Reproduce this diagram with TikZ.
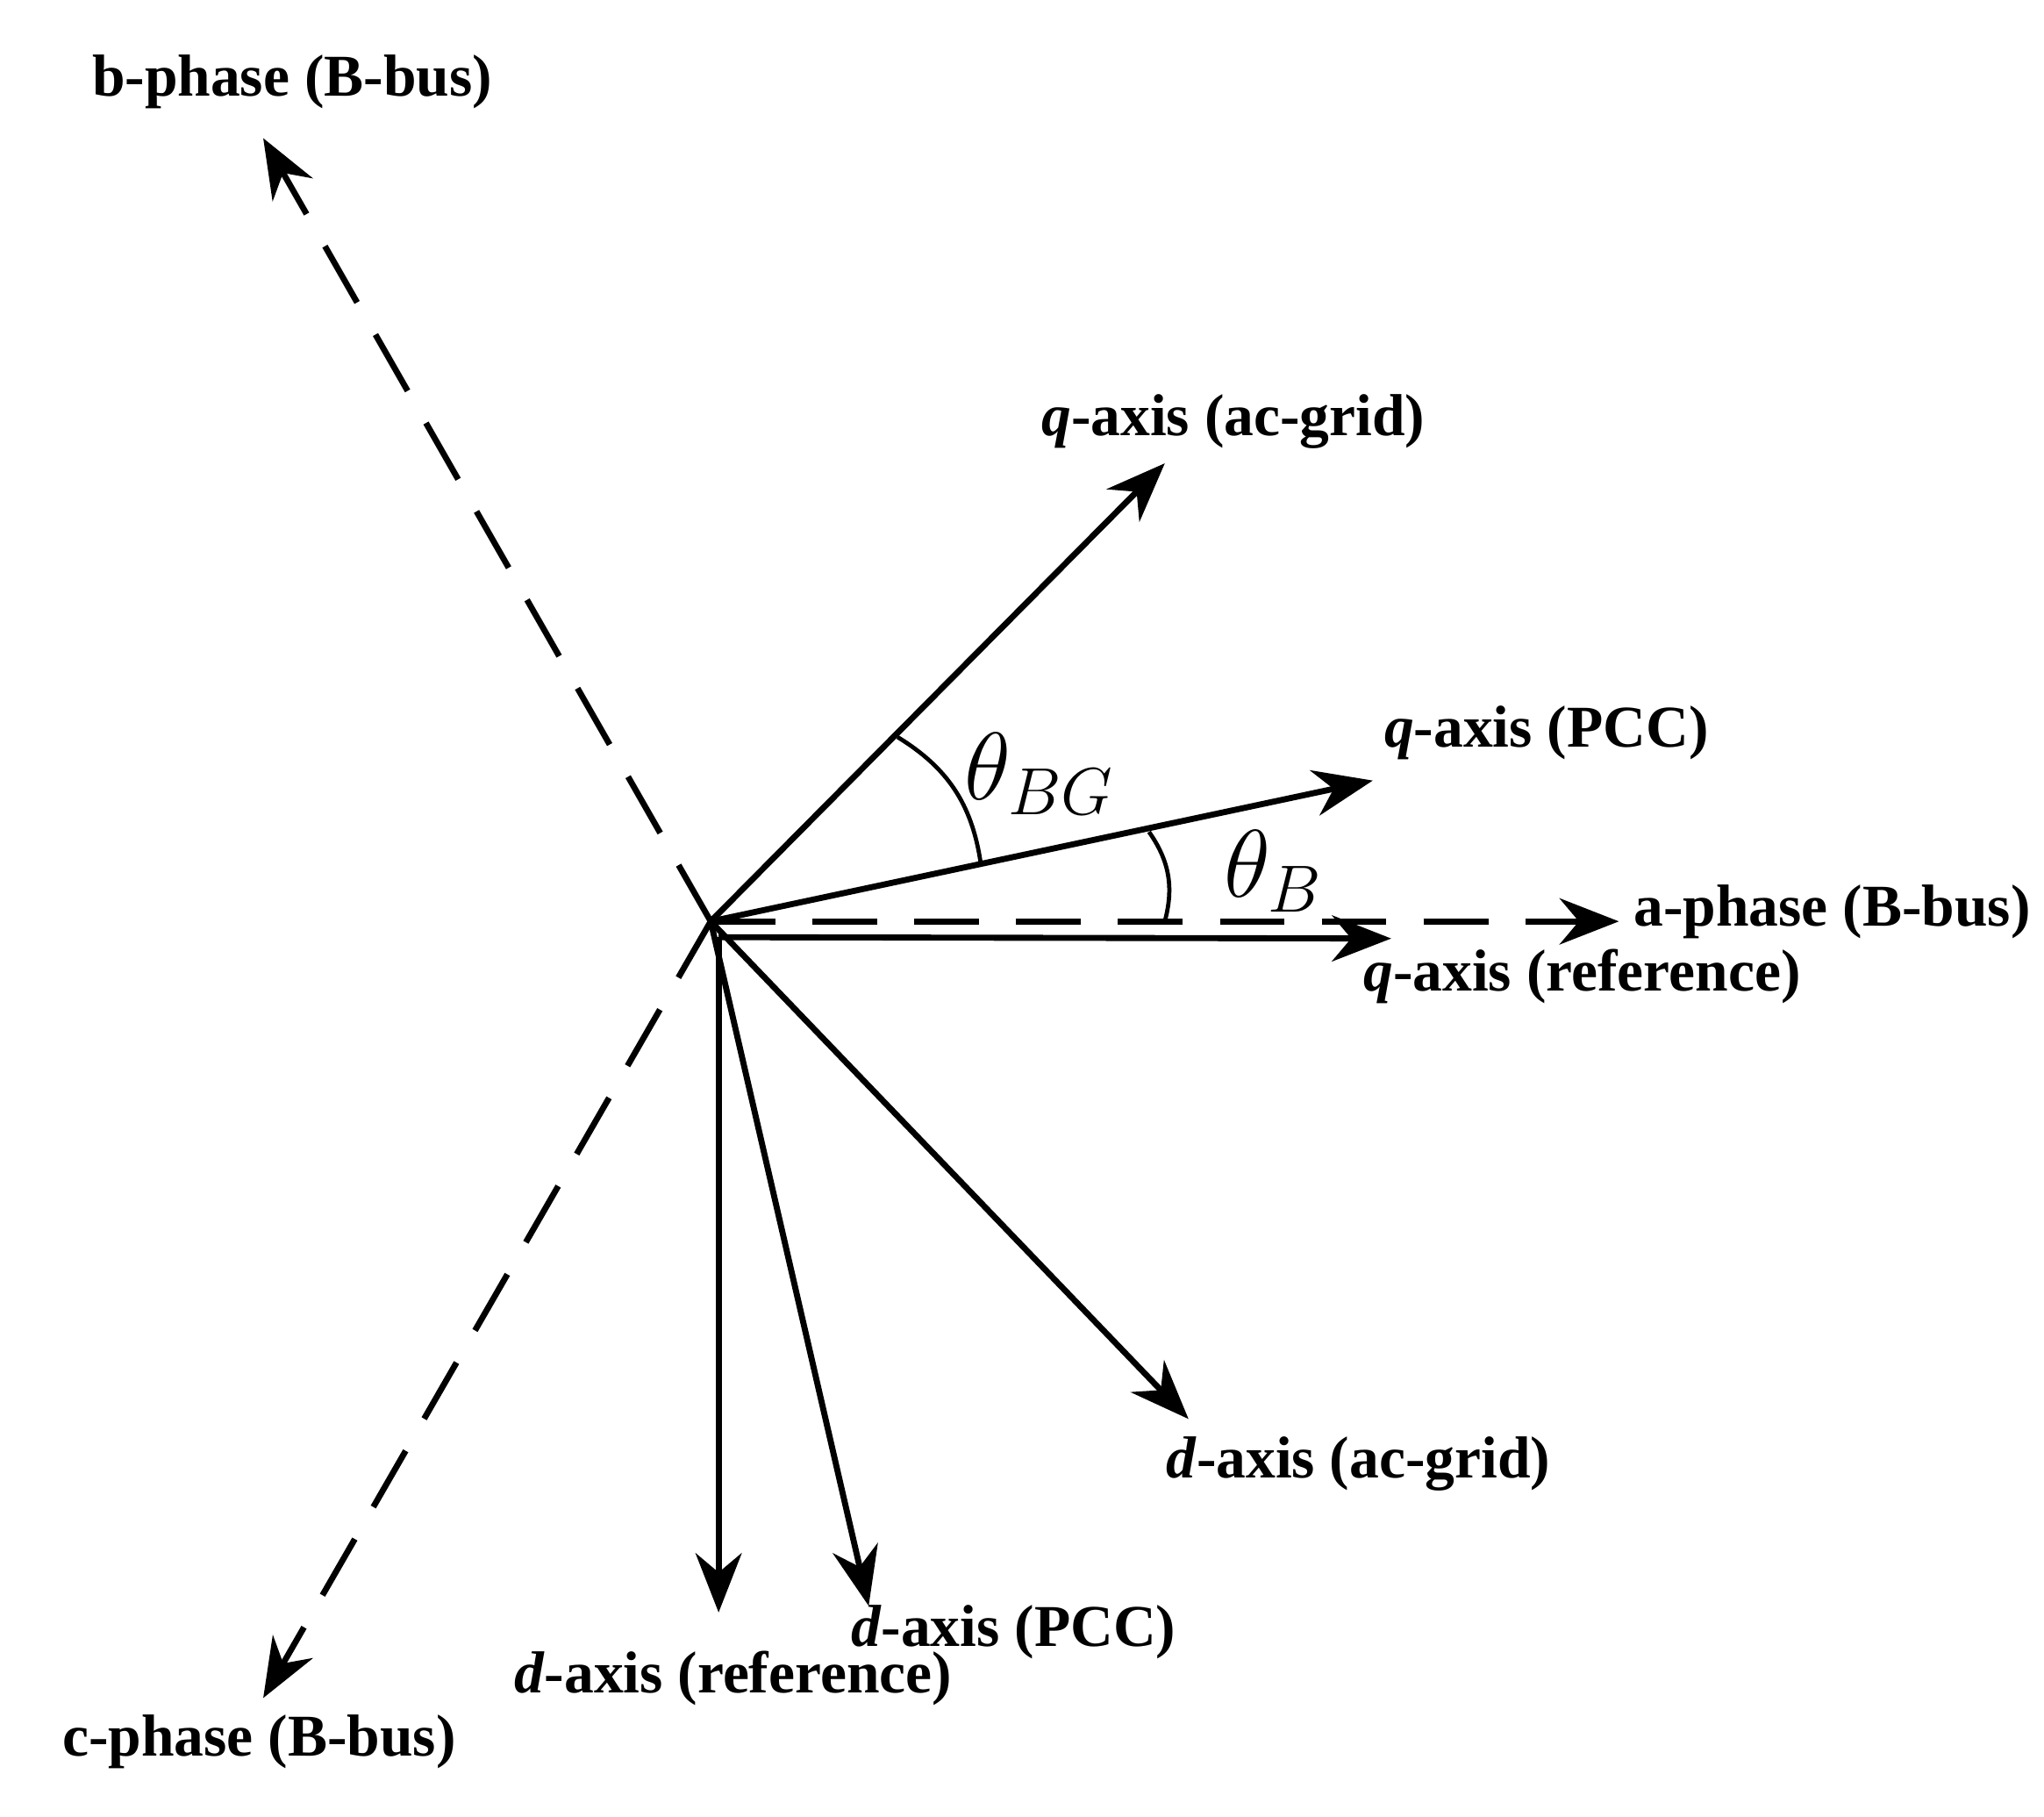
\documentclass[tikz,border=0pt]{standalone}
\usepackage{fontspec}
\setmainfont{Liberation Serif}
\usetikzlibrary{arrows.meta}
\begin{document}
\begin{tikzpicture}[
  x=0.01cm, y=-0.01cm,
  axis/.style={draw, line width=1.3pt, -{Stealth[length=4.5mm,width=3.5mm]}},
  phase/.style={axis, dash pattern=on 14pt off 8pt},
  lbl/.style={font=\fontsize{12.8}{15}\selectfont\bfseries, inner sep=0pt},
  ang/.style={font=\fontsize{21}{24}\selectfont, inner sep=0pt}
]
\useasboundingbox (0,0) rectangle (1553,1380);

% ==========================================================
% Origin and axis tips
% ==========================================================
\coordinate (O) at (540,700);
\coordinate (Oref) at (546,712);
\coordinate (bTip) at (200,105);
\coordinate (cTip) at (200,1290);
\coordinate (aTip) at (1230,700);
\coordinate (qGrid) at (885,352);
\coordinate (qPCC) at (1043,593);
\coordinate (qRef) at (1057,713);
\coordinate (dGrid) at (903,1078);
\coordinate (dPCC) at (660,1220);
\coordinate (dRef) at (546,1225);

% ==========================================================
% Phases (dashed) and axes (solid)
% ==========================================================
\draw[phase] (O) -- (bTip);
\draw[phase] (O) -- (cTip);
\draw[phase] (O) -- (aTip);
\draw[axis] (O) -- (qGrid);
\draw[axis] (O) -- (qPCC);
\draw[axis] (Oref) -- (qRef);
\draw[axis] (O) -- (dGrid);
\draw[axis] (O) -- (dPCC);
\draw[axis] (Oref) -- (dRef);

% angle arcs
\draw[line width=0.9pt] (682,560) to[bend left=25] (745,655);
\draw[line width=0.9pt] (873,632) to[bend left=25] (885,700);

% ==========================================================
% Labels
% ==========================================================
\node[lbl] (bLbl) at (222,62) {b-phase (B-bus)};
\node[lbl] (cLbl) at (197,1323) {c-phase (B-bus)};
\node[lbl] (aLbl) at (1392,693) {a-phase (B-bus)};
\node[lbl] (qGridLbl) at (937,320) {\textit{q}-axis (ac-grid)};
\node[lbl] (qPCCLbl) at (1175,557) {\textit{q}-axis (PCC)};
\node[lbl] (qRefLbl) at (1202,742) {\textit{q}-axis (reference)};
\node[lbl] (dGridLbl) at (1032,1112) {\textit{d}-axis (ac-grid)};
\node[lbl] (dPCCLbl) at (770,1240) {\textit{d}-axis (PCC)};
\node[lbl] (dRefLbl) at (557,1275) {\textit{d}-axis (reference)};
\node[ang] (thBG) at (790,588) {$\theta_{BG}$};
\node[ang] (thB) at (968,662) {$\theta_{B}$};
\end{tikzpicture}
\end{document}
